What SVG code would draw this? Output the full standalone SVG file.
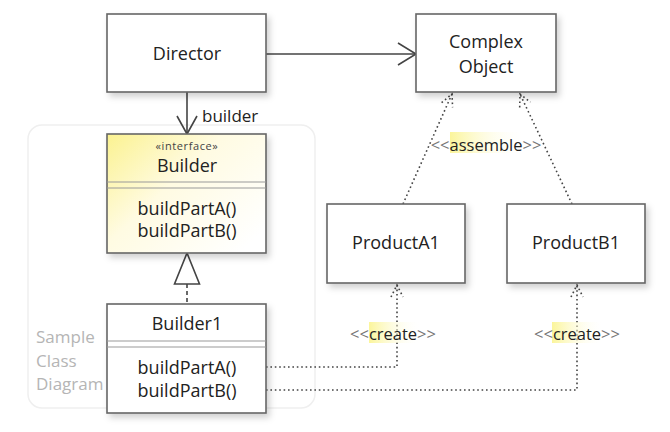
<svg xmlns="http://www.w3.org/2000/svg" width="670" height="432" viewBox="0 0 670 432">
<defs>
  <filter id="sh" x="-10%" y="-10%" width="130%" height="140%">
    <feDropShadow dx="3" dy="4" stdDeviation="3" flood-color="#000" flood-opacity="0.18"/>
  </filter>
  <linearGradient id="yel" x1="0" y1="0" x2="1" y2="0.8">
    <stop offset="0" stop-color="#fbf290"/>
    <stop offset="0.45" stop-color="#fffbe2"/>
    <stop offset="1" stop-color="#ffffff"/>
  </linearGradient>
  <linearGradient id="hl" x1="0" y1="0" x2="1" y2="0">
    <stop offset="0" stop-color="#fbf59a"/>
    <stop offset="1" stop-color="#ffffff" stop-opacity="0"/>
  </linearGradient>
</defs>
<style>
  text { font-family: "Open Sans", "Liberation Sans", sans-serif; fill: #222; }
  .box { fill: #fff; stroke: #666; stroke-width: 1.6; filter: url(#sh); }
  .ibox { fill: url(#yel); stroke: #666; stroke-width: 1.6; filter: url(#sh); }
  .sep { stroke: #999; stroke-width: 1.2; }
  .name { font-size: 18px; text-anchor: middle; }
  .lbl { font-size: 16.5px; text-anchor: middle; }
  .gt { fill: #777; }
  .solid { fill: none; stroke: #444; stroke-width: 1.6; }
  .dot { fill: none; stroke: #444; stroke-width: 1.6; stroke-dasharray: 1.6 2.8; }
  .dash { fill: none; stroke: #444; stroke-width: 1.6; stroke-dasharray: 4 3; }
  .frame { fill: none; stroke: #efefef; stroke-width: 1.5; }
  .ft { font-size: 17px; fill: #b5b5b5; }
</style>

<g id="frame">
  <rect class="frame" x="28" y="125" width="287" height="283" rx="14"/>
  <text class="ft" x="36" y="343">Sample</text>
  <text class="ft" x="36" y="367">Class</text>
  <text class="ft" x="36" y="390">Diagram</text>
</g>

<g id="connectors">
  <line class="solid" x1="266" y1="54" x2="415" y2="54"/>
  <polyline class="solid" points="398,43 416,54 398,65"/>
  <line class="solid" x1="187" y1="92" x2="187" y2="133"/>
  <polyline class="solid" points="177,116 187,134 197,116"/>
  <text x="202" y="122" style="font-size:17px">builder</text>
  <line class="dash" x1="187" y1="284" x2="187" y2="304"/>
  <polygon points="187,253 174.5,284 199.5,284" fill="#fff" stroke="#444" stroke-width="1.6"/>
  <line class="dot" x1="403" y1="204" x2="452" y2="94"/>
  <polyline class="dot" points="441.6,102.6 452,94 452.6,107.4"/>
  <line class="dot" x1="572" y1="204" x2="520" y2="94"/>
  <polyline class="dot" points="519.7,107.4 520,94 530.5,102.2"/>
  <polyline class="dot" points="266,367 397,367 397,285"/>
  <polyline class="dot" points="391,297 397,285 403,297"/>
  <polyline class="dot" points="266,390 577,390 577,285"/>
  <polyline class="dot" points="571,297 577,285 583,297"/>
</g>

<g id="labels">
  <rect x="450" y="132" width="75" height="21" fill="url(#hl)"/>
  <text class="lbl" x="486" y="151"><tspan class="gt">&lt;&lt;</tspan>assemble<tspan class="gt">&gt;&gt;</tspan></text>
  <rect x="369" y="322" width="52" height="21" fill="url(#hl)"/>
  <text class="lbl" x="393" y="340"><tspan class="gt">&lt;&lt;</tspan>create<tspan class="gt">&gt;&gt;</tspan></text>
  <rect x="552" y="322" width="52" height="21" fill="url(#hl)"/>
  <text class="lbl" x="577" y="340"><tspan class="gt">&lt;&lt;</tspan>create<tspan class="gt">&gt;&gt;</tspan></text>
</g>

<g id="director">
  <rect class="box" x="107" y="14" width="159" height="78"/>
  <text class="name" x="187" y="60">Director</text>
</g>

<g id="complexObject">
  <rect class="box" x="416" y="14" width="140" height="78"/>
  <text class="name" x="486" y="48">Complex</text>
  <text class="name" x="486" y="73">Object</text>
</g>

<g id="builder">
  <rect class="ibox" x="107" y="134" width="159" height="119"/>
  <text x="187" y="150" style="font-size:11px;text-anchor:middle;letter-spacing:0.6px;fill:#444">«interface»</text>
  <text class="name" x="187" y="172">Builder</text>
  <line class="sep" x1="107" y1="182" x2="266" y2="182"/>
  <line class="sep" x1="107" y1="188" x2="266" y2="188"/>
  <text class="name" x="187" y="215">buildPartA()</text>
  <text class="name" x="187" y="237">buildPartB()</text>
</g>

<g id="builder1">
  <rect class="box" x="107" y="304" width="159" height="109"/>
  <text class="name" x="187" y="330">Builder1</text>
  <line class="sep" x1="107" y1="341" x2="266" y2="341"/>
  <line class="sep" x1="107" y1="347" x2="266" y2="347"/>
  <text class="name" x="187" y="374">buildPartA()</text>
  <text class="name" x="187" y="397">buildPartB()</text>
</g>

<g id="productA1">
  <rect class="box" x="327" y="204" width="138" height="79"/>
  <text class="name" x="396" y="249">ProductA1</text>
</g>

<g id="productB1">
  <rect class="box" x="507" y="204" width="138" height="79"/>
  <text class="name" x="576" y="249">ProductB1</text>
</g>
</svg>
